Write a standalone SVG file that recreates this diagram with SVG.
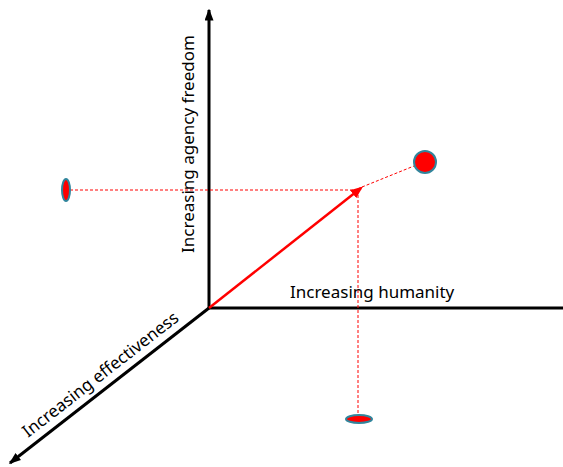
<svg xmlns="http://www.w3.org/2000/svg" width="563" height="467" viewBox="0 0 563 467">
<style>
.axis{stroke:#000;stroke-width:3;fill:none}
.dot{stroke:#f00;stroke-width:1;stroke-dasharray:3,2;fill:none}
.pt{fill:#f00;stroke:#31859c;stroke-width:2}
.lbl{font-family:"Noto Sans","DejaVu Sans",sans-serif;font-size:17px;fill:#000}
</style>
<defs>
<marker id="ah" markerWidth="4" markerHeight="3" refX="3.5" refY="1.5" orient="auto" markerUnits="strokeWidth"><path d="M0,0 L4,1.5 L0,3 Z" fill="#000"/></marker>
<marker id="ahr" markerWidth="5" markerHeight="4" refX="4" refY="2" orient="auto" markerUnits="strokeWidth"><path d="M0,0 L5,2 L0,4 Z" fill="#f00"/></marker>
</defs>
<g id="connectors">
<line class="axis" x1="209" y1="309" x2="209" y2="10" marker-end="url(#ah)"/>
<line class="axis" x1="208" y1="308" x2="563" y2="308"/>
<line class="axis" x1="209" y1="308" x2="10" y2="463" marker-end="url(#ah)"/>
<line class="dot" x1="70" y1="190" x2="358" y2="190"/>
<line class="dot" x1="358" y1="190" x2="358" y2="415"/>
<line class="dot" x1="362" y1="187" x2="414" y2="166"/>
<line x1="209" y1="308" x2="361" y2="188" stroke="#f00" stroke-width="2.5" marker-end="url(#ahr)"/>
</g>
<g id="node-circle"><circle class="pt" cx="425" cy="162" r="11"/></g>
<g id="node-left"><ellipse class="pt" cx="66" cy="190" rx="4" ry="11"/></g>
<g id="node-bottom"><ellipse class="pt" cx="359" cy="419" rx="13" ry="4"/></g>
<g id="labels">
<text class="lbl" x="290" y="298">Increasing humanity</text>
<text class="lbl" transform="translate(194,144) rotate(-90)" text-anchor="middle">Increasing agency freedom</text>
<text class="lbl" transform="translate(104,379) rotate(-37.9)" text-anchor="middle">Increasing effectiveness</text>
</g>
</svg>
